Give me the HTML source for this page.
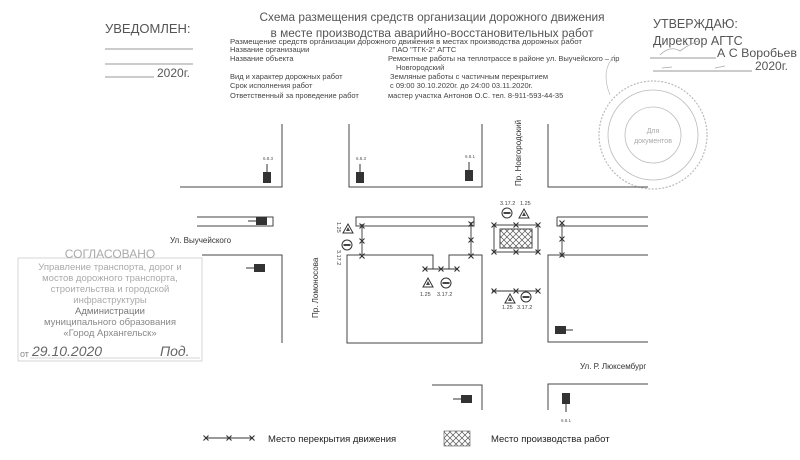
<!DOCTYPE html>
<html><head><meta charset="utf-8"><style>
html,body{margin:0;padding:0;background:#fff}
svg{display:block}
text{font-family:"Liberation Sans",sans-serif}
</style></head><body>
<svg width="800" height="460" viewBox="0 0 800 460" xmlns="http://www.w3.org/2000/svg">
<defs>
<pattern id="hatch" width="6" height="6" patternUnits="userSpaceOnUse">
<path d="M0 0L6 6M6 0L0 6" stroke="#555" stroke-width="0.7"/>
</pattern>
<g id="x"><path d="M-2.5 -2.5L2.5 2.5M2.5 -2.5L-2.5 2.5" stroke="#333" stroke-width="1.1"/></g>
<g id="tri"><path d="M0 -5L5 4H-5Z" fill="none" stroke="#333" stroke-width="1"/><path d="M0 -2L2 2H-2Z" fill="#444"/></g>
<g id="circ"><circle r="5" fill="none" stroke="#333" stroke-width="1"/><rect x="-3.5" y="-1" width="7" height="2" fill="#444"/></g>
</defs>

<!-- Header -->
<g fill="#555">
<text x="432" y="21" font-size="12" text-anchor="middle" textLength="345" lengthAdjust="spacingAndGlyphs">Схема размещения средств организации дорожного движения</text>
<text x="432" y="37" font-size="12" text-anchor="middle" textLength="323" lengthAdjust="spacingAndGlyphs">в месте производства аварийно-восстановительных работ</text>
<text x="105" y="33" font-size="13">УВЕДОМЛЕН:</text>
<text x="653" y="28" font-size="12.5">УТВЕРЖДАЮ:</text>
<text x="653" y="45" font-size="12.5">Директор АГТС</text>
<text x="717" y="57" font-size="12" textLength="80" lengthAdjust="spacingAndGlyphs">А  С  Воробьев</text>
<text x="755" y="70" font-size="12">2020г.</text>
<text x="157" y="77" font-size="12">2020г.</text>
</g>
<g stroke="#777" stroke-width="0.8">
<line x1="105" y1="49" x2="193" y2="49"/>
<line x1="105" y1="64" x2="193" y2="64"/>
<line x1="105" y1="77" x2="154" y2="77"/>
<line x1="650" y1="58" x2="716" y2="58"/>
<line x1="653" y1="71" x2="752" y2="71"/>
</g>
<path d="M660 55 q10 -10 20 -4 q8 -6 18 -10 M662 68 l10 -1 M715 68 l10 -2" stroke="#aaa" fill="none" stroke-width="0.8"/>
<g fill="#444" font-size="7.5">
<text x="230" y="44" textLength="352" lengthAdjust="spacingAndGlyphs">Размещение средств организации дорожного движения в местах производства дорожных работ</text>
<text x="230" y="52">Название организации</text>
<text x="230" y="61">Название объекта</text>
<text x="230" y="79">Вид и характер дорожных работ</text>
<text x="230" y="88">Срок исполнения работ</text>
<text x="230" y="98">Ответственный за проведение работ</text>
<text x="392" y="52">ПАО "ТГК-2" АГТС</text>
<text x="388" y="61">Ремонтные работы на теплотрассе в районе ул. Выучейского – пр</text>
<text x="396" y="70">Новгородский</text>
<text x="390" y="79">Земляные работы с частичным перекрытием</text>
<text x="390" y="88">с 09:00 30.10.2020г. до 24:00 03.11.2020г.</text>
<text x="388" y="98">мастер участка Антонов О.С. тел. 8-911-593-44-35</text>
</g>

<!-- Round stamp -->
<g fill="none" stroke="#bbb">
<circle cx="653" cy="135" r="54" stroke-dasharray="2 1.5" stroke-width="1.2"/>
<circle cx="653" cy="135" r="45" stroke-width="0.8"/>
<circle cx="653" cy="135" r="28" stroke-width="0.8"/>
<path d="M610 95 q-10 -25 5 -40" stroke-width="0.7"/>
</g>
<text x="653" y="133" font-size="7" fill="#aaa" text-anchor="middle" font-family="Liberation Serif">Для</text>
<text x="653" y="143" font-size="7" fill="#aaa" text-anchor="middle" font-family="Liberation Serif">документов</text>

<!-- Blocks -->
<g fill="none" stroke="#444" stroke-width="1">
<path d="M180 187H282V124"/>
<path d="M349 124V187H482V124"/>
<path d="M548 124V187H648"/>
<path d="M197 217H273V226H197"/>
<path d="M202 255H282V343"/>
<path d="M356 217H474V226H356Z"/>
<path d="M433 269V255H347V343H482V255H449V269"/>
<path d="M557 217H648M557 217V226H648"/>
<path d="M648 255H548V342H648"/>
<path d="M432 385H482V410"/>
<path d="M548 410V384H648"/>
</g>

<!-- Stamp box left -->
<rect x="18" y="258" width="184" height="103" fill="none" stroke="#ccc" stroke-width="0.8"/>
<g fill="#aaa" font-size="9.5" text-anchor="middle" font-family="Liberation Serif">
<text x="110" y="258" font-size="12">СОГЛАСОВАНО</text>
<text x="110" y="270">Управление транспорта, дорог и</text>
<text x="110" y="281">мостов дорожного транспорта,</text>
<text x="110" y="292">строительства и городской</text>
<text x="110" y="303">инфраструктуры</text>
<text x="110" y="314" fill="#777">Администрации</text>
<text x="110" y="325" fill="#888">муниципального образования</text>
<text x="110" y="336" fill="#888">«Город Архангельск»</text>
</g>
<text x="20" y="357" font-size="9" fill="#888">от</text>
<text x="32" y="356" font-size="14" fill="#666" font-style="italic">29.10.2020</text>
<text x="160" y="356" font-size="14" fill="#666" font-style="italic">Под.</text>
<line x1="30" y1="358" x2="200" y2="358" stroke="#aaa" stroke-width="0.6"/>

<!-- Street labels -->
<g fill="#333" font-size="8">
<text x="170" y="243">Ул. Выучейского</text>
<text x="580" y="369">Ул. Р. Люксембург</text>
<text transform="translate(318,318) rotate(-90)">Пр. Ломоносова</text>
<text transform="translate(521,186) rotate(-90)">Пр. Новгородский</text>
</g>

<!-- Small dark signs -->
<g fill="#333">
<rect x="263" y="172" width="8" height="11"/><line x1="267" y1="164" x2="267" y2="172" stroke="#333"/>
<rect x="356" y="172" width="8" height="11"/><line x1="360" y1="164" x2="360" y2="172" stroke="#333"/>
<rect x="465" y="170" width="8" height="11"/><line x1="469" y1="162" x2="469" y2="170" stroke="#333"/>
<rect x="256" y="217" width="11" height="8"/><line x1="248" y1="221" x2="256" y2="221" stroke="#333"/>
<rect x="254" y="264" width="11" height="8"/><line x1="246" y1="268" x2="254" y2="268" stroke="#333"/>
<rect x="555" y="326" width="11" height="8"/><line x1="566" y1="330" x2="573" y2="330" stroke="#333"/>
<rect x="461" y="395" width="11" height="8"/><line x1="453" y1="399" x2="461" y2="399" stroke="#333"/>
<rect x="562" y="393" width="8" height="11"/><line x1="566" y1="404" x2="566" y2="412" stroke="#333"/>
</g>
<g fill="#555" font-size="4.5">
<text x="263" y="160">6.8.3</text><text x="356" y="160">6.8.3</text><text x="465" y="158">6.8.1</text>
<text x="561" y="422">6.8.1</text>
</g>

<!-- Closures -->
<g stroke="#333" stroke-width="0.9">
<line x1="362" y1="224" x2="362" y2="257"/>
<line x1="471" y1="222" x2="471" y2="257"/>
<line x1="424" y1="269" x2="458" y2="269"/>
<line x1="492" y1="291" x2="539" y2="291"/>
<line x1="562" y1="222" x2="562" y2="257"/>
</g>
<g>
<use href="#x" x="362" y="226"/><use href="#x" x="362" y="241"/><use href="#x" x="362" y="256"/>
<use href="#x" x="471" y="224"/><use href="#x" x="471" y="240"/><use href="#x" x="471" y="256"/>
<use href="#x" x="425" y="269"/><use href="#x" x="441" y="269"/><use href="#x" x="457" y="269"/>
<use href="#x" x="494" y="291"/><use href="#x" x="516" y="291"/><use href="#x" x="538" y="291"/>
<use href="#x" x="562" y="223"/><use href="#x" x="562" y="239"/><use href="#x" x="562" y="255"/>
</g>

<!-- Work zone -->
<rect x="494" y="225" width="44" height="27" fill="none" stroke="#444"/>
<rect x="500" y="229" width="32" height="19" fill="url(#hatch)" stroke="#444"/>
<use href="#x" x="494" y="225"/><use href="#x" x="516" y="225"/><use href="#x" x="538" y="225"/>
<use href="#x" x="494" y="252"/><use href="#x" x="516" y="252"/><use href="#x" x="538" y="252"/>

<!-- Warning signs -->
<use href="#tri" x="428" y="283"/><use href="#circ" x="446" y="283"/>
<use href="#tri" x="510" y="299"/><use href="#circ" x="526" y="297"/>
<use href="#circ" x="347" y="245"/><use href="#tri" x="348" y="229"/>
<use href="#circ" x="507" y="213"/><use href="#tri" x="524" y="214"/>
<g fill="#444" font-size="5.5">
<text x="420" y="296">1.25</text><text x="437" y="296">3.17.2</text>
<text x="502" y="309">1.25</text><text x="517" y="309">3.17.2</text>
<text x="500" y="205">3.17.2</text><text x="520" y="205">1.25</text>
<text transform="translate(337,250) rotate(90)">3.17.2</text>
<text transform="translate(337,222) rotate(90)">1.25</text>
</g>

<!-- Legend -->
<line x1="205" y1="438" x2="253" y2="438" stroke="#333" stroke-width="0.9"/>
<use href="#x" x="206" y="438"/><use href="#x" x="229" y="438"/><use href="#x" x="252" y="438"/>
<text x="268" y="442" font-size="9.5" fill="#222">Место перекрытия движения</text>
<rect x="444" y="431" width="26" height="15" fill="url(#hatch)" stroke="#555" stroke-width="0.6"/>
<text x="491" y="442" font-size="9.5" fill="#222">Место производства работ</text>
</svg>
</body></html>
